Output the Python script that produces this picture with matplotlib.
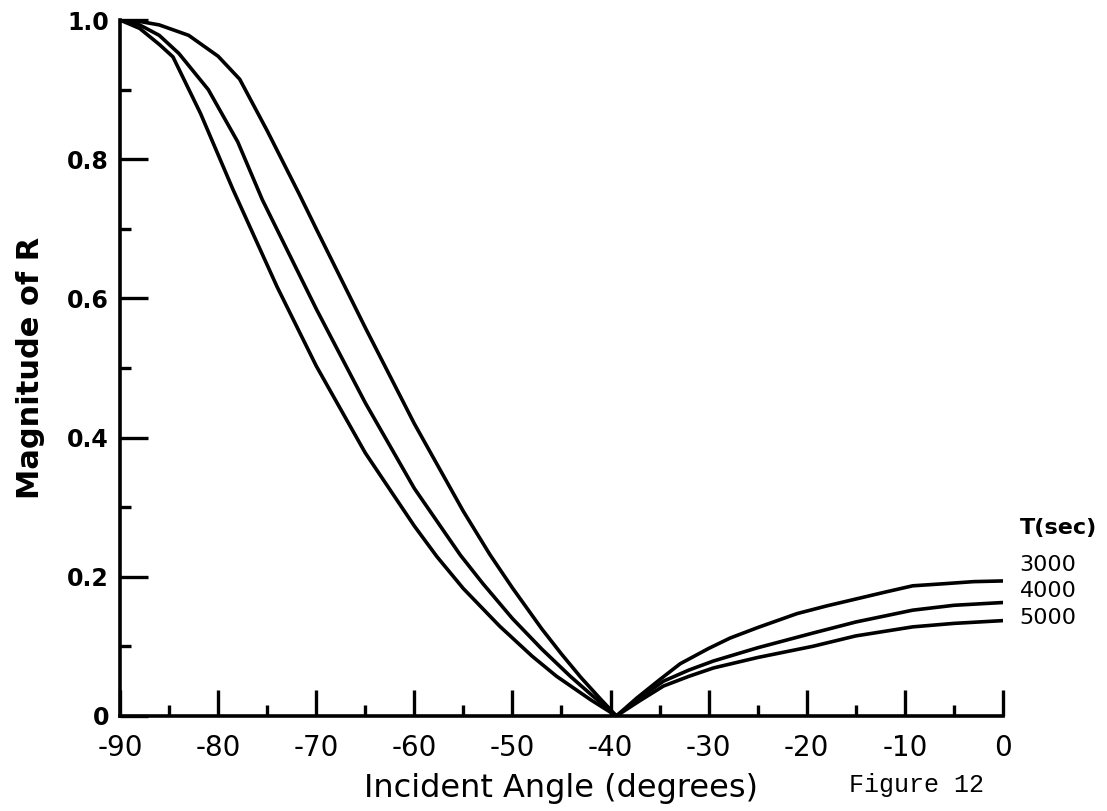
import matplotlib
matplotlib.use("Agg")
import matplotlib.pyplot as plt
from matplotlib.ticker import MultipleLocator

# Incident angle (degrees) and |R| for each period T (sec)
angle_3000 = [-90, -88, -86, -83, -80, -77.8, -75, -71.7, -70, -65, -60, -55, -52.3, -50,
              -47, -45, -43, -41, -39.4, -37.3, -35, -32.9, -30, -27.8, -25, -21, -18,
              -15, -12, -9.2, -6, -3, 0]
mag_3000 = [1.0, 0.998, 0.993, 0.978, 0.948, 0.915, 0.841, 0.749, 0.70, 0.558, 0.42, 0.294,
            0.232, 0.184, 0.125, 0.089, 0.055, 0.024, 0.0, 0.026, 0.052, 0.075, 0.097,
            0.112, 0.127, 0.147, 0.158, 0.168, 0.178, 0.187, 0.19, 0.193, 0.194]

angle_4000 = [-90, -88, -86, -84, -81, -78, -75.5, -70, -65, -60, -55.3, -53, -50, -47,
              -44.1, -42, -39.4, -37, -34.6, -32, -29.5, -25, -19.4, -15, -9.2, -5, 0]
mag_4000 = [1.0, 0.993, 0.978, 0.952, 0.90, 0.825, 0.742, 0.585, 0.45, 0.327, 0.231, 0.19,
            0.14, 0.096, 0.057, 0.031, 0.0, 0.026, 0.05, 0.066, 0.079, 0.098, 0.119, 0.135,
            0.152, 0.159, 0.163]

angle_5000 = [-90, -88, -86, -84.6, -81.8, -78.5, -74, -70, -65, -60, -57.7, -55, -51.3,
              -48, -45.5, -42, -39.4, -37, -34.6, -32, -29.5, -25, -19.4, -15, -9.2, -5, 0]
mag_5000 = [1.0, 0.988, 0.965, 0.947, 0.866, 0.757, 0.617, 0.503, 0.378, 0.273, 0.229, 0.183,
            0.129, 0.086, 0.057, 0.023, 0.0, 0.022, 0.043, 0.057, 0.069, 0.084, 0.10, 0.115,
            0.128, 0.133, 0.137]

periods = ["3000", "4000", "5000"]

fig = plt.figure(figsize=(11.07, 8.11), dpi=100)
ax = fig.add_axes([0.1084, 0.1172, 0.7976, 0.8581])

# vertical nudges (points) so the stacked period labels stay apart
label_dy = [11.5, 8.4, 2.0]

series = [(angle_3000, mag_3000), (angle_4000, mag_4000), (angle_5000, mag_5000)]
for (xs, ys), label, dy in zip(series, periods, label_dy):
    ax.plot(xs, ys, color="black", lw=2.6, solid_capstyle="round", solid_joinstyle="round")
    ax.annotate(label, xy=(xs[-1], ys[-1]), xytext=(12, dy), textcoords="offset points",
                ha="left", va="center", fontsize=16, family="DejaVu Sans")

ax.annotate("T(sec)", xy=(0, 0.27), xytext=(12, 0), textcoords="offset points",
            ha="left", va="center", fontsize=16, fontweight="bold", family="DejaVu Sans")

ax.set_xlim(-90, 0)
ax.set_ylim(0, 1.0)
for s in ("top", "right"):
    ax.spines[s].set_visible(False)
for s in ("left", "bottom"):
    ax.spines[s].set_linewidth(2.6)

ax.xaxis.set_major_locator(MultipleLocator(10))
ax.xaxis.set_minor_locator(MultipleLocator(5))
ax.yaxis.set_major_locator(MultipleLocator(0.2))
ax.yaxis.set_minor_locator(MultipleLocator(0.1))
ax.tick_params(which="both", direction="in", width=2.4, color="black")
ax.tick_params(axis="x", which="major", length=19, pad=13, labelsize=20)
ax.tick_params(axis="x", which="minor", length=8)
ax.tick_params(axis="y", which="major", length=20, pad=8, labelsize=17)
ax.tick_params(axis="y", which="minor", length=8)

ax.set_xticks([-90, -80, -70, -60, -50, -40, -30, -20, -10, 0])
ax.set_xticklabels(["-90", "-80", "-70", "-60", "-50", "-40", "-30", "-20", "-10", "0"])
ax.set_yticks([0, 0.2, 0.4, 0.6, 0.8, 1.0])
ax.set_yticklabels(["0", "0.2", "0.4", "0.6", "0.8", "1.0"], fontweight="bold")

ax.set_xlabel("Incident Angle (degrees)", fontsize=23, labelpad=8)
ax.set_ylabel("Magnitude of R", fontsize=22, fontweight="bold", labelpad=16)

fig.text(0.828, 0.032, "Figure 12", family="Liberation Mono", fontsize=18,
         ha="center", va="center")

fig.savefig("out.png", dpi=100)
